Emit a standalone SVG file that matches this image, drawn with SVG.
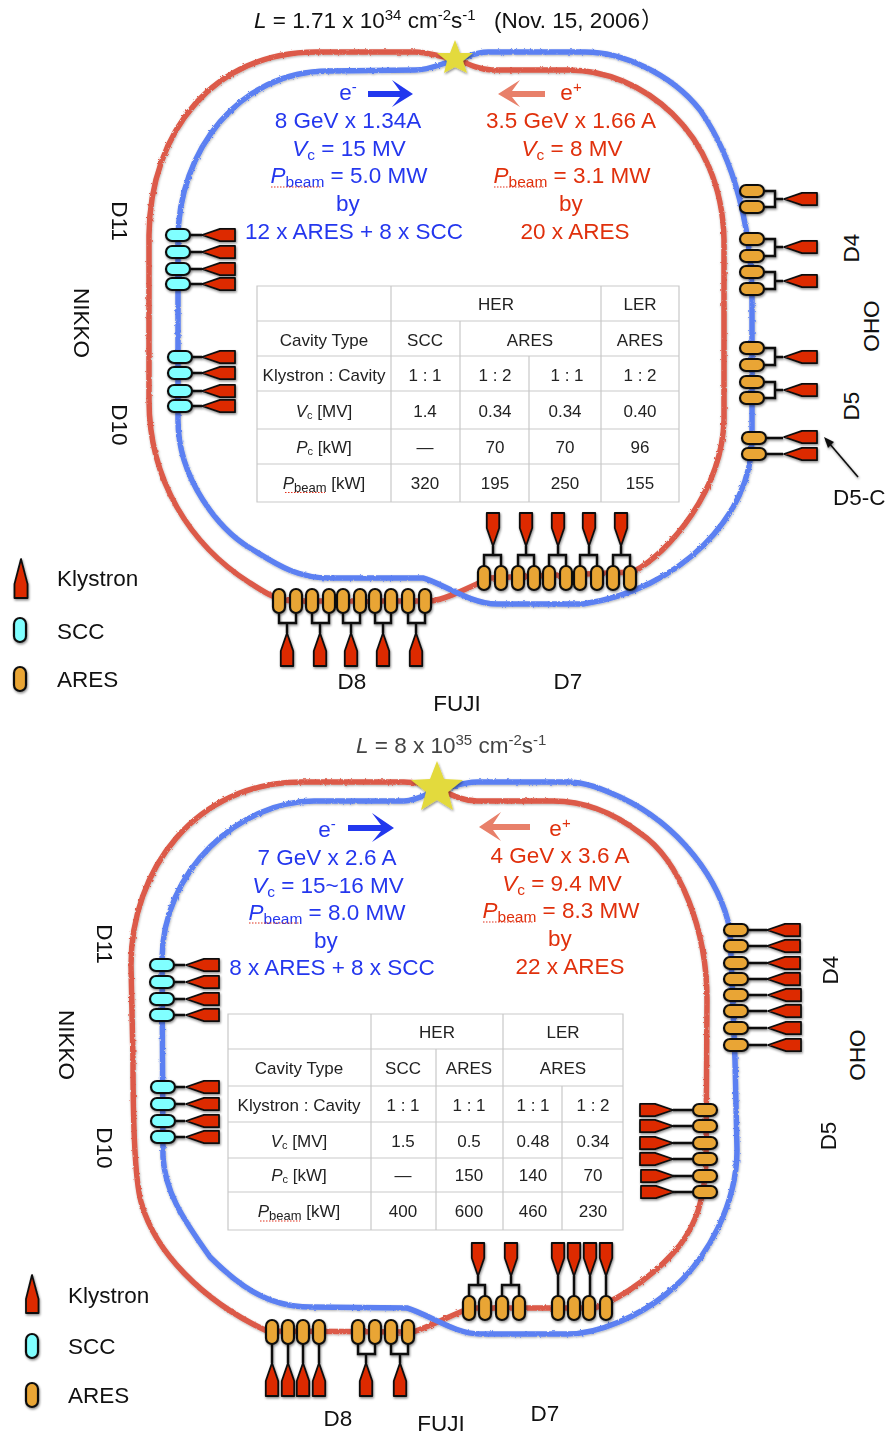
<svg xmlns="http://www.w3.org/2000/svg" xmlns:xlink="http://www.w3.org/1999/xlink" width="886" height="1437" viewBox="0 0 886 1437">
<style>
text{font-family:"Liberation Sans",Arial,sans-serif}
.l{font-size:22.5px;fill:#111}
.ti{font-size:22.5px;fill:#111}
.b{font-size:22.5px;fill:#2437ee;text-anchor:middle}
.r{font-size:22.5px;fill:#e0300c;text-anchor:middle}
.m{text-anchor:middle}
.tb{font-size:17px;fill:#222;text-anchor:middle}
.s{font-size:15px}
.u{font-size:15.5px}
.it{font-style:italic}
.grid{stroke:#c9c9c9;stroke-width:1.2;fill:none}
.ringR{fill:none;stroke:#dc5a48;stroke-width:5.5}
.ringB{fill:none;stroke:#5b80f2;stroke-width:5.5}
.c{fill:none;stroke:#111;stroke-width:2.4}
.k{fill:#dd2c00;stroke:#111;stroke-width:1.8;stroke-linejoin:round}
.sc{fill:#80ffff;stroke:#111;stroke-width:2.2}
.ar{fill:#e9a534;stroke:#111;stroke-width:2.2}
.dot{fill:none;stroke:#e0301c;stroke-width:1.2;stroke-dasharray:1.5 1.5}
.star{fill:#e3da3c}
</style>
<defs>
<filter id="sh" x="-30%" y="-30%" width="170%" height="170%"><feDropShadow dx="0.8" dy="1.5" stdDeviation="1.2" flood-color="#000" flood-opacity="0.45"/></filter>
<filter id="rough" x="-5%" y="-5%" width="110%" height="110%"><feTurbulence type="fractalNoise" baseFrequency="0.4" numOctaves="2" seed="4" result="n"/><feDisplacementMap in="SourceGraphic" in2="n" scale="2.6" result="d"/><feGaussianBlur in="d" stdDeviation="0.4" result="g"/><feDropShadow in="g" dx="0.5" dy="1" stdDeviation="1" flood-color="#000" flood-opacity="0.3"/></filter>
<filter id="soft" x="-20%" y="-20%" width="140%" height="140%"><feGaussianBlur stdDeviation="0.7"/></filter>
<polygon id="kl" class="k" points="0,0 18,-6.2 33,-6.2 33,6.2 18,6.2"/>
<rect id="cs" class="sc" x="-12" y="-6" width="24" height="12" rx="6"/>
<rect id="ca" class="ar" x="-12" y="-6" width="24" height="12" rx="6"/>
</defs>
<rect width="886" height="1437" fill="#fff"/>

<g id="rings-top" filter="url(#rough)">
<path class="ringR" d="M455,58C440,58 430,52 415,52L316,52C215,52 150,130 149,235L149,400C149,480 190,545 250,583C262,590 275,601 295,601L430,601C445,600 470,587 490,578L633,572C670,552 722,490 724,420L724,240C722,130 640,70 569,70L492,70C480,70 470,65 455,58"/>
<path class="ringB" d="M455,60C440,64 430,70 415,70L328,71C240,71 178,150 178,240L178,420C178,480 220,530 250,548C275,563 295,578 330,578L423,578C440,582 470,604 497,604L583,604C680,590 752,515 752,440L752,300C752,230 735,160 700,110C670,72 620,52 585,52L488,52C475,52 465,58 455,60"/>
</g>
<g id="rings-bottom" filter="url(#rough)">
<path class="ringR" d="M437,786C425,785 415,782 404,782L302,782C195,782 131,870 131,965L133,1060C133,1130 135,1185 142,1205C155,1250 200,1300 267,1331L413,1332C430,1326 450,1316 470,1308L595,1308C625,1297 660,1270 680,1245C695,1225 705,1200 706,1160L707,1000C707,930 680,860 640,833C610,810 580,801 553,801L477,801C465,801 455,797 437,788"/>
<path class="ringB" d="M437,790C425,795 415,801 404,801L314,801C240,801 162,870 162,960L163,1157C165,1190 180,1215 210,1257C235,1282 265,1307 310,1307L407,1308C430,1315 455,1334 480,1334L567,1334C600,1334 640,1315 665,1295C710,1260 737,1200 737,1150L735,1060L730,930C720,880 680,825 620,797C600,788 585,782 567,782L477,782C462,782 450,788 437,790"/>
</g>

<g id="connectors" class="c" filter="url(#sh)">
<path class="c" d="M190,235H202M190,252H202M190,269H202M190,284H202M192,357H202M192,373H202M192,391H202M192,406H202"/>
<path class="c" d="M764,191H775V207H764M775,199H783M764,239H775V256H764M775,247H783M764,272H775V289H764M775,281H783M764,348H775V365H764M775,357H783M764,382H775V398H764M775,390H783M766,438H783M766,454H783"/>
<path class="c" d="M484,566V555H501V566M493,555V546M518,566V555H534V566M526,555V546M549,566V555H566V566M558,555V546M580,566V555H597V566M589,555V546M613,566V555H630V566M621,555V546"/>
<path class="c" d="M279,613V623H296V613M287,623V633M312,613V623H329V613M320,623V633M343,613V623H360V613M351,623V633M375,613V623H391V613M383,623V633M408,613V623H425V613M416,623V633"/>
<path class="c" d="M174,965H185M174,982H185M174,999H185M174,1015H185M175,1087H185M175,1104H185M175,1121H185M175,1137H185"/>
<path class="c" d="M748,930H767M748,946H767M748,963H767M748,979H767M748,995H767M748,1011H767M748,1028H767M748,1045H767"/>
<path class="c" d="M673,1110H693M673,1126H693M673,1143H693M673,1159H693M673,1176H693M673,1192H693"/>
<path class="c" d="M469,1296V1285H485V1296M478,1285V1276M502,1296V1285H519V1296M511,1285V1276M558,1276V1296M574,1276V1296M590,1276V1296M606,1276V1296"/>
<path class="c" d="M272,1344V1363M288,1344V1363M303,1344V1363M319,1344V1363M358,1344V1354H375V1344M366,1354V1363M391,1344V1354H408V1344M400,1354V1363"/>
<path d="M858,477L829,443" stroke="#111" stroke-width="1.6" fill="none"/>
<polygon points="824,437 834,442 828,448" fill="#111" stroke="none"/>
</g>

<g id="nodes" filter="url(#sh)">
<g id="t-d11"><use href="#cs" x="178" y="235"/><use href="#cs" x="178" y="252"/><use href="#cs" x="178" y="269"/><use href="#cs" x="178" y="284"/><use href="#kl" x="202" y="235"/><use href="#kl" x="202" y="252"/><use href="#kl" x="202" y="269"/><use href="#kl" x="202" y="284"/></g>
<g id="t-d10"><use href="#cs" x="180" y="357"/><use href="#cs" x="180" y="373"/><use href="#cs" x="180" y="391"/><use href="#cs" x="180" y="406"/><use href="#kl" x="202" y="357"/><use href="#kl" x="202" y="373"/><use href="#kl" x="202" y="391"/><use href="#kl" x="202" y="406"/></g>
<g id="t-d4"><use href="#ca" x="752" y="191"/><use href="#ca" x="752" y="207"/><use href="#ca" x="752" y="239"/><use href="#ca" x="752" y="256"/><use href="#ca" x="752" y="272"/><use href="#ca" x="752" y="289"/><use href="#kl" x="784" y="199"/><use href="#kl" x="784" y="247"/><use href="#kl" x="784" y="281"/></g>
<g id="t-d5"><use href="#ca" x="752" y="348"/><use href="#ca" x="752" y="365"/><use href="#ca" x="752" y="382"/><use href="#ca" x="752" y="398"/><use href="#kl" x="784" y="357"/><use href="#kl" x="784" y="390"/></g>
<g id="t-d5c"><use href="#ca" x="754" y="438"/><use href="#ca" x="754" y="454"/><use href="#kl" x="784" y="437"/><use href="#kl" x="784" y="454"/></g>
<g id="t-d7">
<use href="#ca" transform="translate(484,578) rotate(90)"/><use href="#ca" transform="translate(501,578) rotate(90)"/><use href="#ca" transform="translate(518,578) rotate(90)"/><use href="#ca" transform="translate(534,578) rotate(90)"/><use href="#ca" transform="translate(549,578) rotate(90)"/><use href="#ca" transform="translate(566,578) rotate(90)"/><use href="#ca" transform="translate(580,578) rotate(90)"/><use href="#ca" transform="translate(597,578) rotate(90)"/><use href="#ca" transform="translate(613,578) rotate(90)"/><use href="#ca" transform="translate(630,578) rotate(90)"/>
<use href="#kl" transform="translate(493,546) rotate(-90)"/><use href="#kl" transform="translate(526,546) rotate(-90)"/><use href="#kl" transform="translate(558,546) rotate(-90)"/><use href="#kl" transform="translate(589,546) rotate(-90)"/><use href="#kl" transform="translate(621,546) rotate(-90)"/></g>
<g id="t-d8">
<use href="#ca" transform="translate(279,601) rotate(90)"/><use href="#ca" transform="translate(296,601) rotate(90)"/><use href="#ca" transform="translate(312,601) rotate(90)"/><use href="#ca" transform="translate(329,601) rotate(90)"/><use href="#ca" transform="translate(343,601) rotate(90)"/><use href="#ca" transform="translate(360,601) rotate(90)"/><use href="#ca" transform="translate(375,601) rotate(90)"/><use href="#ca" transform="translate(391,601) rotate(90)"/><use href="#ca" transform="translate(408,601) rotate(90)"/><use href="#ca" transform="translate(425,601) rotate(90)"/>
<use href="#kl" transform="translate(287,633) rotate(90)"/><use href="#kl" transform="translate(320,633) rotate(90)"/><use href="#kl" transform="translate(351,633) rotate(90)"/><use href="#kl" transform="translate(383,633) rotate(90)"/><use href="#kl" transform="translate(416,633) rotate(90)"/></g>

<g id="b-d11"><use href="#cs" x="162" y="965"/><use href="#cs" x="162" y="982"/><use href="#cs" x="162" y="999"/><use href="#cs" x="162" y="1015"/><use href="#kl" x="186" y="965"/><use href="#kl" x="186" y="982"/><use href="#kl" x="186" y="999"/><use href="#kl" x="186" y="1015"/></g>
<g id="b-d10"><use href="#cs" x="163" y="1087"/><use href="#cs" x="163" y="1104"/><use href="#cs" x="163" y="1121"/><use href="#cs" x="163" y="1137"/><use href="#kl" x="186" y="1087"/><use href="#kl" x="186" y="1104"/><use href="#kl" x="186" y="1121"/><use href="#kl" x="186" y="1137"/></g>
<g id="b-d4"><use href="#ca" x="736" y="930"/><use href="#ca" x="736" y="946"/><use href="#ca" x="736" y="963"/><use href="#ca" x="736" y="979"/><use href="#ca" x="736" y="995"/><use href="#ca" x="736" y="1011"/><use href="#ca" x="736" y="1028"/><use href="#ca" x="736" y="1045"/><use href="#kl" x="767" y="930"/><use href="#kl" x="767" y="946"/><use href="#kl" x="767" y="963"/><use href="#kl" x="767" y="979"/><use href="#kl" x="768" y="995"/><use href="#kl" x="768" y="1011"/><use href="#kl" x="768" y="1028"/><use href="#kl" x="768" y="1045"/></g>
<g id="b-d5"><use href="#ca" x="705" y="1110"/><use href="#ca" x="705" y="1126"/><use href="#ca" x="705" y="1143"/><use href="#ca" x="705" y="1159"/><use href="#ca" x="705" y="1176"/><use href="#ca" x="705" y="1192"/>
<use href="#kl" transform="translate(673,1110) rotate(180)"/><use href="#kl" transform="translate(673,1126) rotate(180)"/><use href="#kl" transform="translate(673,1143) rotate(180)"/><use href="#kl" transform="translate(673,1159) rotate(180)"/><use href="#kl" transform="translate(674,1176) rotate(180)"/><use href="#kl" transform="translate(674,1192) rotate(180)"/></g>
<g id="b-d7">
<use href="#ca" transform="translate(469,1308) rotate(90)"/><use href="#ca" transform="translate(485,1308) rotate(90)"/><use href="#ca" transform="translate(502,1308) rotate(90)"/><use href="#ca" transform="translate(519,1308) rotate(90)"/><use href="#ca" transform="translate(558,1308) rotate(90)"/><use href="#ca" transform="translate(574,1308) rotate(90)"/><use href="#ca" transform="translate(589,1308) rotate(90)"/><use href="#ca" transform="translate(606,1308) rotate(90)"/>
<use href="#kl" transform="translate(478,1276) rotate(-90)"/><use href="#kl" transform="translate(511,1276) rotate(-90)"/><use href="#kl" transform="translate(558,1276) rotate(-90)"/><use href="#kl" transform="translate(574,1276) rotate(-90)"/><use href="#kl" transform="translate(590,1276) rotate(-90)"/><use href="#kl" transform="translate(606,1276) rotate(-90)"/></g>
<g id="b-d8">
<use href="#ca" transform="translate(272,1332) rotate(90)"/><use href="#ca" transform="translate(288,1332) rotate(90)"/><use href="#ca" transform="translate(303,1332) rotate(90)"/><use href="#ca" transform="translate(319,1332) rotate(90)"/><use href="#ca" transform="translate(358,1332) rotate(90)"/><use href="#ca" transform="translate(375,1332) rotate(90)"/><use href="#ca" transform="translate(391,1332) rotate(90)"/><use href="#ca" transform="translate(408,1332) rotate(90)"/>
<use href="#kl" transform="translate(272,1363) rotate(90)"/><use href="#kl" transform="translate(288,1363) rotate(90)"/><use href="#kl" transform="translate(303,1363) rotate(90)"/><use href="#kl" transform="translate(319,1363) rotate(90)"/><use href="#kl" transform="translate(366,1363) rotate(90)"/><use href="#kl" transform="translate(400,1363) rotate(90)"/></g>

<g id="legend-top-klystron"><polygon class="k" points="21,559 14.5,584 14.5,598 27.5,598 27.5,584"/></g>
<g id="legend-top-scc"><use href="#cs" transform="translate(20,630) rotate(90)"/></g>
<g id="legend-top-ares"><use href="#ca" transform="translate(20,679) rotate(90)"/></g>
<g id="legend-bottom-klystron"><polygon class="k" points="32,1275 26,1299 26,1313 38.5,1313 38.5,1299"/></g>
<g id="legend-bottom-scc"><use href="#cs" transform="translate(32,1346) rotate(90)"/></g>
<g id="legend-bottom-ares"><use href="#ca" transform="translate(32,1395) rotate(90)"/></g>

<polygon id="star-top" class="star" points="455,40 460,53 473,53 463,61 467,73 455,67 444,73 447,61 437,53 450,53"/>
<polygon id="star-bottom" class="star" points="437,761 444,779 463,780 448,792 453,810 437,800 421,810 426,792 411,780 430,779"/>
</g>

<g id="arrows" filter="url(#soft)">
<polygon fill="#2437ee" points="368,91 400,91 392,80 413,94 392,107 400,97 368,97"/>
<polygon fill="#e8806a" points="545,91 512,91 520,80 498,94 520,107 512,97 545,97"/>
<polygon fill="#2437ee" points="348,825 381,825 372,813 394,828 372,842 381,831 348,831"/>
<polygon fill="#e8806a" points="530,824 493,824 501,812 479,827 501,841 493,830 530,830"/>
</g>

<g id="table-top">
<path class="grid" d="M257,286H679V502H257ZM257,321H679M257,356H679M257,391H679M257,429H679M257,464H679M391,286V502M460,321V502M529,356V502M601,286V502"/>
<text class="tb" x="496" y="310">HER</text><text class="tb" x="640" y="310">LER</text>
<text class="tb" x="324" y="346">Cavity Type</text><text class="tb" x="425" y="346">SCC</text><text class="tb" x="530" y="346">ARES</text><text class="tb" x="640" y="346">ARES</text>
<text class="tb" x="324" y="381">Klystron : Cavity</text><text class="tb" x="425" y="381">1 : 1</text><text class="tb" x="495" y="381">1 : 2</text><text class="tb" x="567" y="381">1 : 1</text><text class="tb" x="640" y="381">1 : 2</text>
<text class="tb" x="324" y="417"><tspan class="it">V</tspan><tspan style="font-size:11px" dy="2">c</tspan><tspan dy="-2"> [MV]</tspan></text><text class="tb" x="425" y="417">1.4</text><text class="tb" x="495" y="417">0.34</text><text class="tb" x="565" y="417">0.34</text><text class="tb" x="640" y="417">0.40</text>
<text class="tb" x="324" y="453"><tspan class="it">P</tspan><tspan style="font-size:11px" dy="2">c</tspan><tspan dy="-2"> [kW]</tspan></text><text class="tb" x="425" y="453">—</text><text class="tb" x="495" y="453">70</text><text class="tb" x="565" y="453">70</text><text class="tb" x="640" y="453">96</text>
<text class="tb" x="324" y="489"><tspan class="it">P</tspan><tspan style="font-size:13px" dy="3">beam</tspan><tspan dy="-3"> [kW]</tspan></text><text class="tb" x="425" y="489">320</text><text class="tb" x="495" y="489">195</text><text class="tb" x="565" y="489">250</text><text class="tb" x="640" y="489">155</text>
<path class="dot" d="M285,492.5H325"/>
</g>

<g id="table-bottom">
<path class="grid" d="M228,1014H623V1230H228ZM228,1049H623M228,1086H623M228,1122H623M228,1158H623M228,1192H623M371,1014V1230M436,1049V1230M503,1014V1230M562,1086V1230"/>
<text class="tb" x="437" y="1038">HER</text><text class="tb" x="563" y="1038">LER</text>
<text class="tb" x="299" y="1074">Cavity Type</text><text class="tb" x="403" y="1074">SCC</text><text class="tb" x="469" y="1074">ARES</text><text class="tb" x="563" y="1074">ARES</text>
<text class="tb" x="299" y="1111">Klystron : Cavity</text><text class="tb" x="403" y="1111">1 : 1</text><text class="tb" x="469" y="1111">1 : 1</text><text class="tb" x="533" y="1111">1 : 1</text><text class="tb" x="593" y="1111">1 : 2</text>
<text class="tb" x="299" y="1147"><tspan class="it">V</tspan><tspan style="font-size:11px" dy="2">c</tspan><tspan dy="-2"> [MV]</tspan></text><text class="tb" x="403" y="1147">1.5</text><text class="tb" x="469" y="1147">0.5</text><text class="tb" x="533" y="1147">0.48</text><text class="tb" x="593" y="1147">0.34</text>
<text class="tb" x="299" y="1181"><tspan class="it">P</tspan><tspan style="font-size:11px" dy="2">c</tspan><tspan dy="-2"> [kW]</tspan></text><text class="tb" x="403" y="1181">—</text><text class="tb" x="469" y="1181">150</text><text class="tb" x="533" y="1181">140</text><text class="tb" x="593" y="1181">70</text>
<text class="tb" x="299" y="1217"><tspan class="it">P</tspan><tspan style="font-size:13px" dy="3">beam</tspan><tspan dy="-3"> [kW]</tspan></text><text class="tb" x="403" y="1217">400</text><text class="tb" x="469" y="1217">600</text><text class="tb" x="533" y="1217">460</text><text class="tb" x="593" y="1217">230</text>
<path class="dot" d="M260,1221H300"/>
</g>

<g id="text-top">
<text class="ti" x="254" y="28"><tspan class="it">L</tspan> = 1.71 x 10<tspan class="s" dy="-8">34</tspan><tspan dy="8"> cm</tspan><tspan class="s" dy="-8">-2</tspan><tspan dy="8">s</tspan><tspan class="s" dy="-8">-1</tspan><tspan dy="8" x="494">(Nov. 15, 2006</tspan><tspan style="font-family:'Noto Sans CJK JP',sans-serif" x="641">）</tspan></text>
<text class="b" x="348" y="100">e<tspan class="s" dy="-8">-</tspan></text>
<text class="b" x="348" y="128">8 GeV x 1.34A</text>
<text class="b" x="349" y="156"><tspan class="it">V</tspan><tspan class="u" dy="4">c</tspan><tspan dy="-4"> = 15 MV</tspan></text>
<text class="b" x="349" y="183"><tspan class="it">P</tspan><tspan class="u" dy="4">beam</tspan><tspan dy="-4"> = 5.0 MW</tspan></text>
<path class="dot" d="M271,187H322"/>
<text class="b" x="348" y="211">by</text>
<text class="b" x="354" y="239">12 x ARES + 8 x SCC</text>
<text class="r" x="571" y="100">e<tspan class="s" dy="-8">+</tspan></text>
<text class="r" x="571" y="128">3.5 GeV x 1.66 A</text>
<text class="r" x="572" y="156"><tspan class="it">V</tspan><tspan class="u" dy="4">c</tspan><tspan dy="-4"> = 8 MV</tspan></text>
<text class="r" x="572" y="183"><tspan class="it">P</tspan><tspan class="u" dy="4">beam</tspan><tspan dy="-4"> = 3.1 MW</tspan></text>
<path class="dot" d="M494,187H545"/>
<text class="r" x="571" y="211">by</text>
<text class="r" x="575" y="239">20 x ARES</text>
<text class="l m" transform="translate(112,221) rotate(90)">D11</text>
<text class="l m" transform="translate(74,323) rotate(90)">NIKKO</text>
<text class="l m" transform="translate(112,425) rotate(90)">D10</text>
<text class="l m" transform="translate(859,248) rotate(-90)">D4</text>
<text class="l m" transform="translate(879,326) rotate(-90)">OHO</text>
<text class="l m" transform="translate(859,406) rotate(-90)">D5</text>
<text class="l" x="833" y="505">D5-C</text>
<text class="l m" x="352" y="689">D8</text>
<text class="l m" x="568" y="689">D7</text>
<text class="l m" x="457" y="711">FUJI</text>
<text class="l" x="57" y="586">Klystron</text>
<text class="l" x="57" y="639">SCC</text>
<text class="l" x="57" y="687">ARES</text>
</g>

<g id="text-bottom">
<text class="ti" x="356" y="753" style="fill:#444"><tspan class="it">L</tspan> = 8 x 10<tspan class="s" dy="-8">35</tspan><tspan dy="8"> cm</tspan><tspan class="s" dy="-8">-2</tspan><tspan dy="8">s</tspan><tspan class="s" dy="-8">-1</tspan></text>
<text class="b" x="327" y="837">e<tspan class="s" dy="-8">-</tspan></text>
<text class="b" x="327" y="865">7 GeV x 2.6 A</text>
<text class="b" x="328" y="893"><tspan class="it">V</tspan><tspan class="u" dy="4">c</tspan><tspan dy="-4"> = 15~16 MV</tspan></text>
<text class="b" x="327" y="920"><tspan class="it">P</tspan><tspan class="u" dy="4">beam</tspan><tspan dy="-4"> = 8.0 MW</tspan></text>
<path class="dot" d="M249,923H300"/>
<text class="b" x="326" y="948">by</text>
<text class="b" x="332" y="975">8 x ARES + 8 x SCC</text>
<text class="r" x="560" y="836">e<tspan class="s" dy="-8">+</tspan></text>
<text class="r" x="560" y="863">4 GeV x 3.6 A</text>
<text class="r" x="562" y="891"><tspan class="it">V</tspan><tspan class="u" dy="4">c</tspan><tspan dy="-4"> = 9.4 MV</tspan></text>
<text class="r" x="561" y="918"><tspan class="it">P</tspan><tspan class="u" dy="4">beam</tspan><tspan dy="-4"> = 8.3 MW</tspan></text>
<path class="dot" d="M483,922H534"/>
<text class="r" x="560" y="946">by</text>
<text class="r" x="570" y="974">22 x ARES</text>
<text class="l m" transform="translate(97,944) rotate(90)">D11</text>
<text class="l m" transform="translate(59,1045) rotate(90)">NIKKO</text>
<text class="l m" transform="translate(97,1148) rotate(90)">D10</text>
<text class="l m" transform="translate(838,970) rotate(-90)">D4</text>
<text class="l m" transform="translate(865,1055) rotate(-90)">OHO</text>
<text class="l m" transform="translate(836,1136) rotate(-90)">D5</text>
<text class="l m" x="338" y="1426">D8</text>
<text class="l m" x="545" y="1421">D7</text>
<text class="l m" x="441" y="1431">FUJI</text>
<text class="l" x="68" y="1303">Klystron</text>
<text class="l" x="68" y="1354">SCC</text>
<text class="l" x="68" y="1403">ARES</text>
</g>
</svg>
